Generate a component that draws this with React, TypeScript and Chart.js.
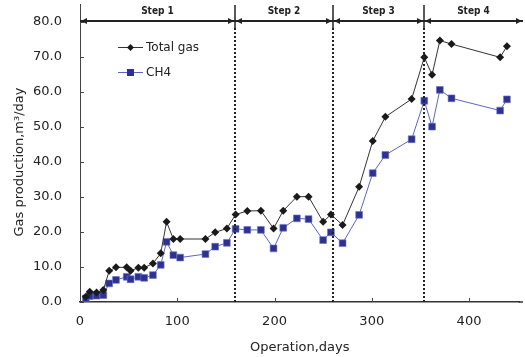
import React, { useEffect, useRef } from "react";
import { Chart, registerables } from "chart.js";

Chart.register(...registerables);

const days = [6, 10, 17, 24, 30, 37, 48, 52, 60, 66, 75, 83, 89, 96, 103, 129, 139, 151, 160, 172, 186, 199, 209, 223, 235, 250, 258, 270, 287, 301, 314, 341, 354, 362, 370, 382, 432, 439];
const totalGas = [1.5, 2.9, 2.7, 3.4, 8.9, 9.9, 9.9, 8.9, 9.8, 9.8, 11.0, 13.9, 22.9, 18.0, 18.0, 18.0, 19.9, 21.0, 25.0, 26.0, 26.1, 21.0, 26.1, 30.1, 30.1, 22.9, 25.0, 22.0, 32.9, 46.0, 52.9, 58.0, 69.9, 64.9, 74.7, 73.7, 69.9, 73.1];
const ch4Gas = [1.0, 1.7, 1.8, 2.0, 5.3, 6.3, 7.2, 6.5, 7.2, 6.9, 7.7, 10.6, 17.2, 13.4, 12.7, 13.7, 15.8, 16.9, 20.9, 20.6, 20.6, 15.3, 21.2, 23.9, 23.7, 17.7, 19.9, 16.8, 24.9, 36.8, 42.0, 46.5, 57.5, 50.1, 60.6, 58.2, 54.7, 57.9];

const seriesNames = ["Total gas", "CH4"];
const stepLabels = ["Step 1", "Step 2", "Step 3", "Step 4"];
const stepBounds = [159, 260, 354];
const xTickValues = [0, 100, 200, 300, 400];
const yTickValues = [0, 10, 20, 30, 40, 50, 60, 70, 80];

const TOTAL_LINE = "#333333";
const TOTAL_PT = "#1a1a1a";
const CH4_LINE = "#5b66c4";
const CH4_PT = "#2e3192";
const CH4_PT_BORDER = "#6a74c8";

function drawDiamond(ctx: CanvasRenderingContext2D, x: number, y: number, r: number) {
  ctx.beginPath();
  ctx.moveTo(x, y - r);
  ctx.lineTo(x + r, y);
  ctx.lineTo(x, y + r);
  ctx.lineTo(x - r, y);
  ctx.closePath();
  ctx.fill();
}

const decorPlugin = {
  id: "decor",
  afterDraw(chart: any) {
    const { ctx, chartArea, scales } = chart;
    const x = scales.x;
    const y = scales.y;
    const { left, right, top, bottom } = chartArea;
    const farRight = chart.width - 2;
    ctx.save();

    // extend bottom axis line to the canvas edge
    ctx.strokeStyle = "#333";
    ctx.lineWidth = 1.5;
    ctx.beginPath();
    ctx.moveTo(right - 1, bottom);
    ctx.lineTo(farRight, bottom);
    ctx.stroke();

    // inward ticks
    ctx.strokeStyle = "#444";
    ctx.lineWidth = 1;
    for (const v of xTickValues) {
      const px = Math.round(x.getPixelForValue(v)) + 0.5;
      ctx.beginPath();
      ctx.moveTo(px, bottom);
      ctx.lineTo(px, bottom - 4);
      ctx.stroke();
    }
    for (const v of yTickValues) {
      const py = Math.round(y.getPixelForValue(v)) + 0.5;
      ctx.beginPath();
      ctx.moveTo(left, py);
      ctx.lineTo(left + 4, py);
      ctx.stroke();
    }

    // left axis extension upward
    ctx.beginPath();
    ctx.moveTo(left + 0.5, 4);
    ctx.lineTo(left + 0.5, top);
    ctx.stroke();

    // dotted step dividers
    ctx.strokeStyle = "#222";
    ctx.lineWidth = 2;
    ctx.setLineDash([2, 2]);
    const bx = stepBounds.map((d) => Math.round(x.getPixelForValue(d)));
    for (const px of bx) {
      ctx.beginPath();
      ctx.moveTo(px, 28);
      ctx.lineTo(px, bottom);
      ctx.stroke();
    }
    ctx.setLineDash([]);
    ctx.lineWidth = 1.5;
    for (const px of bx) {
      ctx.beginPath();
      ctx.moveTo(px, 5);
      ctx.lineTo(px, 28);
      ctx.stroke();
    }

    // horizontal arrow line
    const ay = 21;
    ctx.strokeStyle = "#222";
    ctx.lineWidth = 2;
    ctx.beginPath();
    ctx.moveTo(left, ay);
    ctx.lineTo(farRight, ay);
    ctx.stroke();

    // arrowheads
    ctx.fillStyle = "#222";
    const edges = [left, ...bx, farRight];
    const arrow = (px: number, dir: number) => {
      ctx.beginPath();
      ctx.moveTo(px, ay);
      ctx.lineTo(px + dir * 6, ay - 3);
      ctx.lineTo(px + dir * 6, ay + 3);
      ctx.closePath();
      ctx.fill();
    };
    for (let i = 0; i < edges.length; i++) {
      if (i > 0) arrow(edges[i] - 1, -1);
      if (i < edges.length - 1) arrow(edges[i] + 1, 1);
    }

    // step labels
    ctx.fillStyle = "#222";
    ctx.font = "bold 10px 'Liberation Sans Narrow', 'DejaVu Sans Condensed', sans-serif";
    ctx.textAlign = "center";
    ctx.textBaseline = "middle";
    for (let i = 0; i < stepLabels.length; i++) {
      const cx = (edges[i] + edges[i + 1]) / 2;
      ctx.fillText(stepLabels[i], cx, 11);
    }

    // legend
    const lx0 = 118;
    const lx1 = 143;
    const lyA = 47;
    const lyB = 72;
    ctx.lineWidth = 1;
    ctx.strokeStyle = TOTAL_LINE;
    ctx.beginPath();
    ctx.moveTo(lx0, lyA + 0.5);
    ctx.lineTo(lx1, lyA + 0.5);
    ctx.stroke();
    ctx.fillStyle = TOTAL_PT;
    drawDiamond(ctx, (lx0 + lx1) / 2, lyA + 0.5, 3.5);
    ctx.strokeStyle = CH4_LINE;
    ctx.beginPath();
    ctx.moveTo(lx0, lyB + 0.5);
    ctx.lineTo(lx1, lyB + 0.5);
    ctx.stroke();
    ctx.fillStyle = CH4_PT;
    ctx.fillRect((lx0 + lx1) / 2 - 3.5, lyB - 3, 7, 7);

    ctx.fillStyle = "#222";
    ctx.font = "12px 'DejaVu Sans', sans-serif";
    ctx.textAlign = "left";
    ctx.textBaseline = "middle";
    ctx.fillText(seriesNames[0], 146, lyA + 1);
    ctx.fillText(seriesNames[1], 146, lyB + 1);

    ctx.restore();
  },
};

export default function App() {
  const ref = useRef<HTMLCanvasElement | null>(null);

  useEffect(() => {
    if (!ref.current) return;
    const chart = new Chart(ref.current, {
      type: "line",
      data: {
        datasets: [
          {
            label: seriesNames[0],
            data: days.map((d, i) => ({ x: d, y: totalGas[i] })),
            borderColor: TOTAL_LINE,
            borderWidth: 1,
            pointStyle: "rectRot",
            pointRadius: 4,
            pointBackgroundColor: TOTAL_PT,
            pointBorderColor: TOTAL_PT,
            pointBorderWidth: 0,
            tension: 0,
          },
          {
            label: seriesNames[1],
            data: days.map((d, i) => ({ x: d, y: ch4Gas[i] })),
            borderColor: CH4_LINE,
            borderWidth: 1,
            pointStyle: "rect",
            pointRadius: 4.8,
            pointBackgroundColor: CH4_PT,
            pointBorderColor: CH4_PT_BORDER,
            pointBorderWidth: 0.6,
            tension: 0,
          },
        ],
      },
      options: {
        animation: false,
        responsive: true,
        maintainAspectRatio: false,
        layout: { padding: { top: 22, right: 0, left: 0, bottom: 0 } },
        plugins: { legend: { display: false }, tooltip: { enabled: false } },
        scales: {
          x: {
            type: "linear",
            min: 0,
            max: 452,
            grid: { display: false, drawTicks: false },
            border: { display: true, color: "#333", width: 1.5 },
            ticks: {
              stepSize: 100,
              includeBounds: false,
              padding: 12,
              color: "#222",
              font: { family: "'DejaVu Sans', sans-serif", size: 13 },
              maxRotation: 0,
              callback: (v: any) => (Number(v) % 100 === 0 ? String(v) : ""),
            },
            title: {
              display: true,
              text: "Operation,days",
              color: "#222",
              font: { family: "'DejaVu Sans', sans-serif", size: 13 },
              padding: { top: 0, bottom: 2 },
            },
            afterFit: (s: any) => {
              s.height = 55;
              s.paddingRight = 0;
              s.paddingLeft = 0;
            },
          },
          y: {
            min: 0,
            max: 80,
            grid: { display: false, drawTicks: false },
            border: { display: true, color: "#444", width: 1 },
            ticks: {
              stepSize: 10,
              padding: 18,
              color: "#222",
              font: { family: "'DejaVu Sans', sans-serif", size: 13 },
              callback: (v: any) => Number(v).toFixed(1),
            },
            title: {
              display: true,
              text: "Gas production,m³/day",
              color: "#222",
              font: { family: "'DejaVu Sans', sans-serif", size: 13 },
              padding: { top: 12, bottom: 0 },
            },
            afterFit: (s: any) => {
              s.width = 80;
              s.paddingTop = 0;
              s.paddingBottom = 0;
            },
          },
        },
      },
      plugins: [decorPlugin],
    });
    return () => chart.destroy();
  }, []);

  return (
    <div style={{ position: "fixed", left: 0, top: 0, width: 525, height: 357, background: "#fff" }}>
      <canvas ref={ref} />
    </div>
  );
}
